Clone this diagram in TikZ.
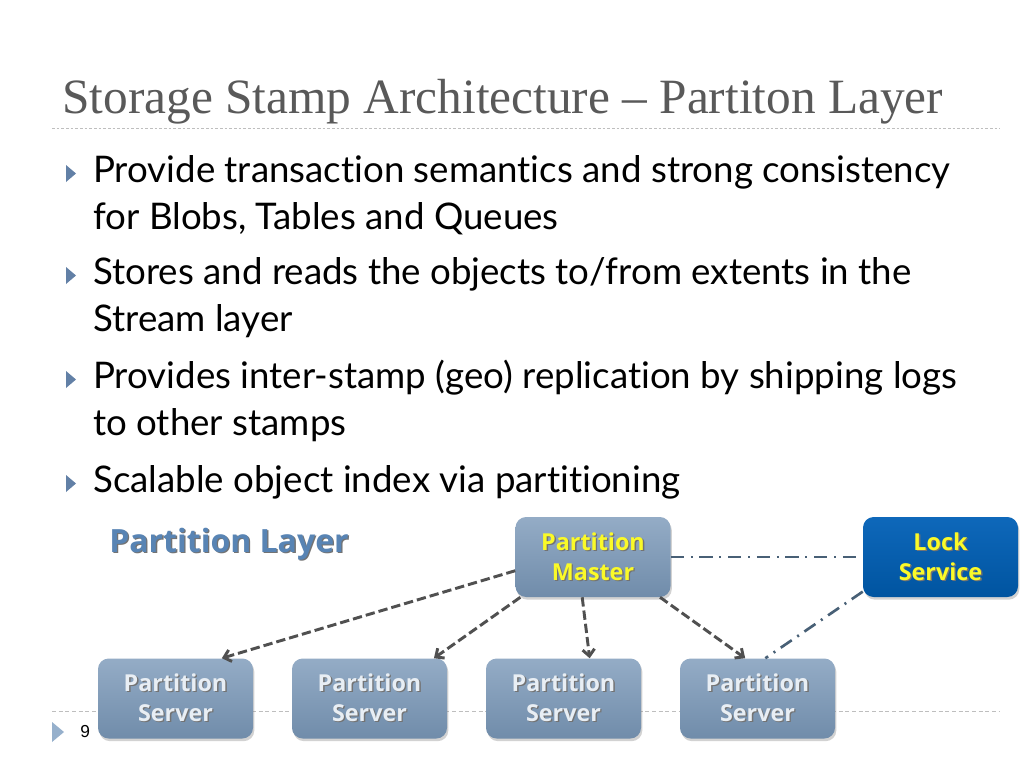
\documentclass[tikz,border=0pt]{standalone}
\usepackage{fontspec}
\setmainfont{Lato}[Ligatures=NoCommon]
\newfontfamily\titlefont{Liberation Serif}
\newfontfamily\boxfont{Open Sans}
\newfontfamily\numfont{Liberation Sans}
\usetikzlibrary{arrows.meta,shadows}
\definecolor{titlegray}{RGB}{89,89,89}
\definecolor{rulegray}{RGB}{190,190,190}
\definecolor{bulletblue}{RGB}{98,128,166}
\definecolor{footblue}{RGB}{150,176,204}
\definecolor{layerblue}{RGB}{88,132,180}
\definecolor{boxtop}{RGB}{148,172,198}
\definecolor{boxbot}{RGB}{112,140,170}
\definecolor{locktop}{RGB}{14,104,186}
\definecolor{lockbot}{RGB}{0,84,160}
\definecolor{boxyellow}{RGB}{250,250,40}
\definecolor{servertext}{RGB}{232,238,244}
\definecolor{arrowgray}{RGB}{80,80,80}
\definecolor{lockline}{RGB}{72,96,118}
\def\shtext#1#2{\makebox[0pt][l]{\raisebox{-1pt}{\hspace{1pt}\color{black!55}#2}}{\color{#1}#2}}
\def\bullet(#1){\fill[bulletblue] (66,#1-17) -- (76,#1-8.5) -- (66,#1) -- cycle;}

\begin{document}
\begin{tikzpicture}[x=0.75pt,y=-0.75pt,
    bodytext/.style={anchor=base west, inner sep=0pt, font=\fontsize{27.5}{33}\selectfont},
    servbox/.style={draw=none, rounded corners=8pt, minimum width=155*0.75pt, minimum height=80*0.75pt,
        top color=boxtop, bottom color=boxbot, align=center, inner sep=0pt,
        font=\boxfont\bfseries\fontsize{17.5}{22.5}\selectfont,
        drop shadow={opacity=0.35, shadow xshift=1pt, shadow yshift=-2pt}},
    lockbox/.style={servbox, top color=locktop, bottom color=lockbot},
    pmarrow/.style={arrowgray, line width=2.2pt, dash pattern=on 7pt off 3pt, -{Straight Barb[length=5pt,width=9pt]}},
    lockdash/.style={lockline, line width=2pt, dash pattern=on 10pt off 5pt on 1.5pt off 5pt}]
		%%%%% START %%%%%
		\useasboundingbox[fill=white] (0,0) rectangle (1024,768);
		
		% title
		\node[anchor=base west, inner sep=0pt, text=titlegray, font=\titlefont\fontsize{37}{40}\selectfont] (title) at (62,113) {Storage Stamp Architecture – Partiton Layer};
		\draw[rulegray, line width=0.75pt, dash pattern=on 2pt off 1.5pt] (52,128) -- (1000,128);
		
		% bullets
		\bullet(182)
		\bullet(284)
		\bullet(388)
		\bullet(492)
		\node[bodytext] (b1a) at (93,182) {Provide transaction semantics and strong consistency};
		\node[bodytext] (b1b) at (93,229) {for Blobs, Tables and Queues};
		\node[bodytext] (b2a) at (93,284) {Stores and reads the objects to/from extents in the};
		\node[bodytext] (b2b) at (93,331) {Stream layer};
		\node[bodytext] (b3a) at (93,388) {Provides inter-stamp (geo) replication by shipping logs};
		\node[bodytext] (b3b) at (93,435) {to other stamps};
		\node[bodytext] (b4a) at (93,492) {Scalable object index via partitioning};
		
		% footer
		\draw[rulegray, line width=0.75pt, dash pattern=on 3pt off 2pt] (52,711) -- (1000,711);
		\fill[footblue] (52,722) -- (64,732) -- (52,742) -- cycle;
		\node[anchor=base west, inner sep=0pt, font=\numfont\fontsize{13}{15}\selectfont] (pagenum) at (80,737) {9};
		
		% diagram
		\node[anchor=west, inner sep=0pt, font=\boxfont\bfseries\fontsize{24}{28}\selectfont] (layer) at (109,545) {\shtext{layerblue}{Partition Layer}};
		
		\node[servbox] (pm) at (593,557) {\shtext{boxyellow}{Partition}\\\shtext{boxyellow}{Master}};
		\node[lockbox] (lock) at (940.5,557) {\shtext{boxyellow}{Lock}\\\shtext{boxyellow}{Service}};
		
		\node[servbox] (ps1) at (175.5,698.5) {\shtext{servertext}{Partition}\\\shtext{servertext}{Server}};
		\node[servbox] (ps2) at (369.5,698.5) {\shtext{servertext}{Partition}\\\shtext{servertext}{Server}};
		\node[servbox] (ps3) at (563.5,698.5) {\shtext{servertext}{Partition}\\\shtext{servertext}{Server}};
		\node[servbox] (ps4) at (757.5,698.5) {\shtext{servertext}{Partition}\\\shtext{servertext}{Server}};
		
		\draw[pmarrow] (pm.190) -- (ps1.41);
		\draw[pmarrow] (pm.209) -- (ps2.32);
		\draw[pmarrow] (pm.255) -- (ps3.57);
		\draw[pmarrow] (pm.329) -- (ps4.107);
		
		\draw[lockdash] (pm.east) -- (lock.west);
		\draw[lockdash] (lock.204) -- (ps4.79);
		
		%%%%% END %%%%%
\end{tikzpicture}
\end{document}
